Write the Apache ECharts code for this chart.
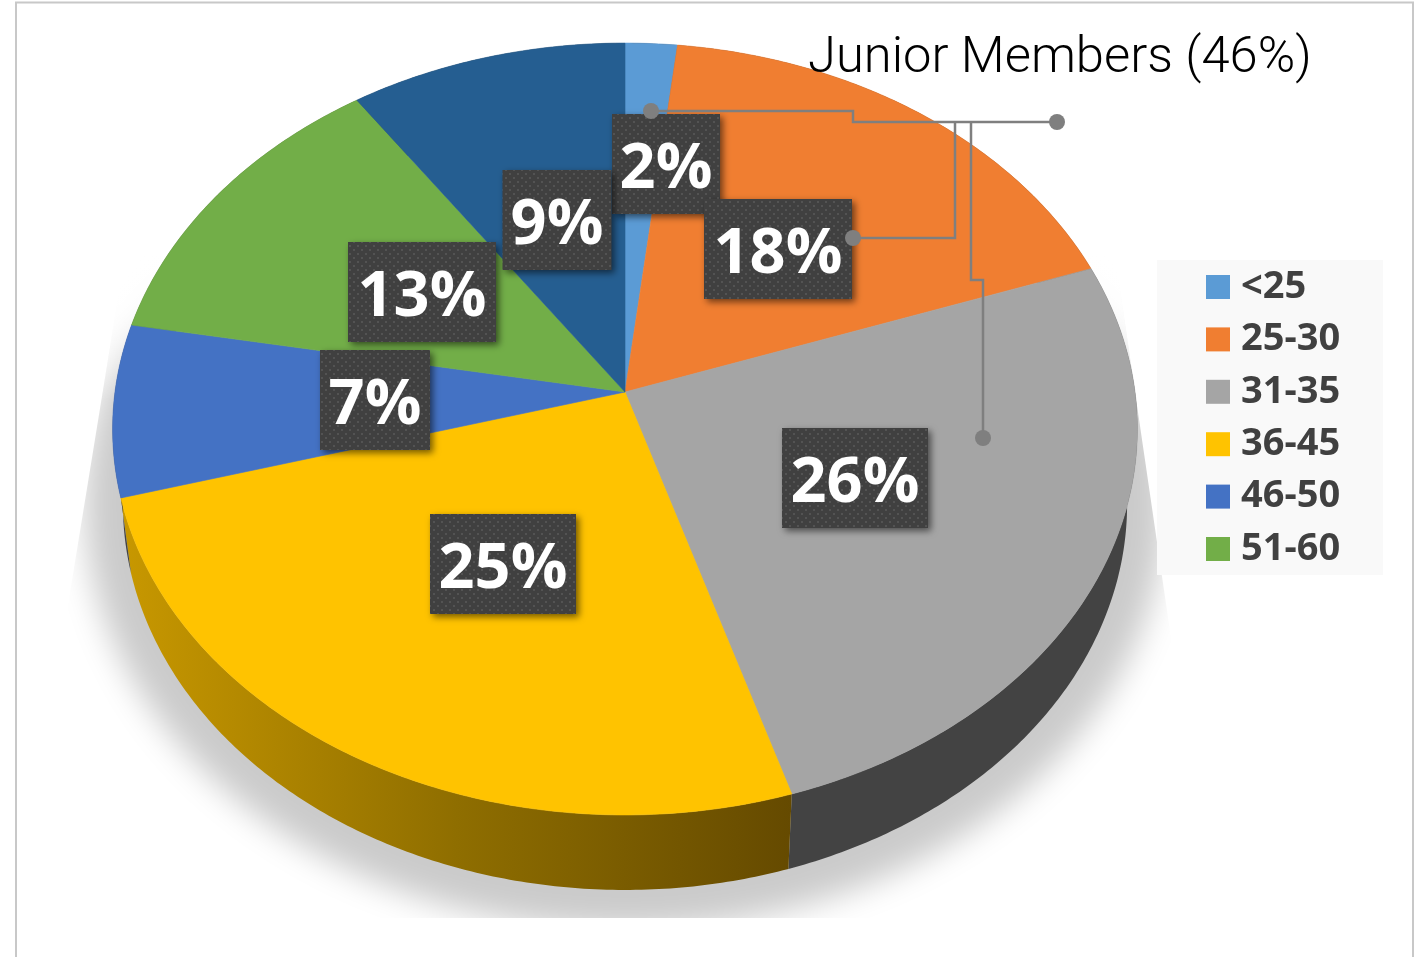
<!DOCTYPE html>
<html><head><meta charset="utf-8">
<style>html,body{margin:0;padding:0;background:#fff;overflow:hidden}#c{width:1423px;height:957px}</style>
<script src="https://cdn.jsdelivr.net/npm/echarts@6/dist/echarts.min.js"></script>
</head><body><div id="c"></div>
<script>
// ---- data ----
const categories = ['<25','25-30','31-35','36-45','46-50','51-60','61+'];
const legendCategories = ['<25','25-30','31-35','36-45','46-50','51-60'];
const shares = [1.8,17.8,25.6,25.45,7.2,12.55,9.6];
const shareLabels = ['2%','18%','26%','25%','7%','13%','9%'];
const titleText = 'Junior Members (46%)';

// ---- style / layout ----
const colors = ['#5B9BD5','#F07E31','#A5A5A5','#FFC300','#4472C4','#72AE48','#255E91'];
const labelCentres = [[666,164],[778,249],[855,478],[503,564],[375,400],[422,292],[557,220]];
const labelWidths = [108,148,146,146,110,148,109];
const view = {cx:625, cy:392, k:0.0959, S:382.4, R:510, depth:75, shrink:0.98};
const labelFont = 'bold 63px "Open Sans"';
const goldSide = {type:'linear',x:120,y:0,x2:792,y2:0,global:true,colorStops:[
  {offset:0,color:'#C89800'},{offset:0.5,color:'#8F6E00'},{offset:1,color:'#654A00'}]};
const sideFills = ['#444','#444','#434343',goldSide,'#444','#444','#444'];

function project(share, drop){
  const t = share/100*2*Math.PI, u = Math.sin(t), v = Math.cos(t), d = 1+view.k*v;
  let x = view.R*u/d, y = -view.S*v/d;
  if(drop){ x*=view.shrink; y += view.depth; }
  return [view.cx+x, view.cy+y];
}
function arc(a,b,drop){
  const out=[], n=Math.max(8,Math.ceil((b-a)*6));
  for(let i=0;i<=n;i++) out.push(project(a+(b-a)*i/n,drop));
  return out;
}
function dotPattern(){
  const c=document.createElement('canvas');c.width=c.height=8;
  const g=c.getContext('2d');g.fillStyle='#404040';g.fillRect(0,0,8,8);
  g.fillStyle='#535353';g.fillRect(1,1,2,2);g.fillRect(5,5,2,2);return c;
}
const pattern={image:dotPattern(),repeat:'repeat'};

let acc=0;
const starts=shares.map(v=>{const s=acc;acc+=v;return s;});

const sliceSeries=categories.map((name,i)=>({
  type:'custom',name,coordinateSystem:'none',silent:true,z:3,
  itemStyle:{color:colors[i]},
  data:[[starts[i],shares[i]]],
  renderItem(p,api){
    const a=api.value(0), b=a+api.value(1), top=arc(a,b,false), low=arc(a,b,true).reverse();
    const [lx,ly]=labelCentres[i], w=labelWidths[i];
    return {type:'group',children:[
      {type:'polygon',z2:1,shape:{points:top.concat(low)},style:{fill:sideFills[i],stroke:null}},
      {type:'polygon',z2:10,shape:{points:[[view.cx,view.cy]].concat(top)},
        style:{fill:colors[i],stroke:colors[i],lineWidth:0.6}},
      {type:'rect',z2:20+i,shape:{x:lx-w/2,y:ly-50,width:w,height:100},
        style:{fill:pattern,shadowColor:'rgba(0,0,0,0.55)',shadowBlur:7,shadowOffsetX:3,shadowOffsetY:3}},
      {type:'text',z2:40,style:{x:lx,y:ly+6,text:shareLabels[i],font:labelFont,fill:'#fff',align:'center',verticalAlign:'middle'}}
    ]};
  }
}));

const off=4000;
const shadowSeries={
  type:'custom',name:'shadow',coordinateSystem:'none',silent:true,z:1,data:[[0]],
  renderItem(){
    return {type:'group',
      clipPath:{type:'polygon',shape:{points:[[125,255],[1115,255],[1212,918],[17,918]]}},
      children:[
        {type:'ellipse',z2:1,shape:{cx:625-off,cy:504,rx:540,ry:425},
          style:{fill:'#000',shadowColor:'#CBCBCB',shadowBlur:32,shadowOffsetX:off}},
        {type:'rect',z2:2,shape:{x:0,y:250,width:1423,height:150},
          style:{fill:{type:'linear',x:0,y:0,x2:0,y2:1,colorStops:[
            {offset:0,color:'rgba(255,255,255,1)'},{offset:0.35,color:'rgba(255,255,255,0.85)'},{offset:1,color:'rgba(255,255,255,0)'}]}}}
      ]
    };
  }
};

const chart=echarts.init(document.getElementById('c'),null,{renderer:'canvas'});
const line=pts=>({type:'polyline',z:30,silent:true,shape:{points:pts},style:{stroke:'#7F7F7F',lineWidth:2.5,fill:null}});
const dot=(x,y)=>({type:'circle',z:31,silent:true,shape:{cx:x,cy:y,r:8},style:{fill:'#7F7F7F'}});
chart.setOption({
  animation:false,
  backgroundColor:'#fff',
  color:colors,
  title:{text:titleText,left:808,top:24,padding:0,z:30,
    textStyle:{fontFamily:'Roboto',fontWeight:300,fontSize:50.7,color:'#000',lineHeight:70}},
  legend:{show:true,data:legendCategories,orient:'vertical',left:1157,top:260,
    selectedMode:false,icon:'rect',itemWidth:24,itemHeight:24,itemGap:14.4,
    backgroundColor:'#F9F9F9',padding:[8,43,7,49],
    textStyle:{fontFamily:'Open Sans',fontWeight:'bold',fontSize:38,color:'#404040',padding:[0,0,0,6]}},
  graphic:[
    {type:'rect',z:0,silent:true,shape:{x:16,y:2.5,width:1397,height:1000},style:{fill:null,stroke:'#C8C8C8',lineWidth:2}},
    line([[651,111],[853,111],[853,122],[1057,122]]),
    line([[853,238],[955,238],[955,122]]),
    line([[983,438],[983,280],[971,280],[971,122]]),
    dot(651,111),dot(853,238),dot(983,438),dot(1057,122)
  ],
  series:[shadowSeries].concat(sliceSeries)
});
</script></body></html>
